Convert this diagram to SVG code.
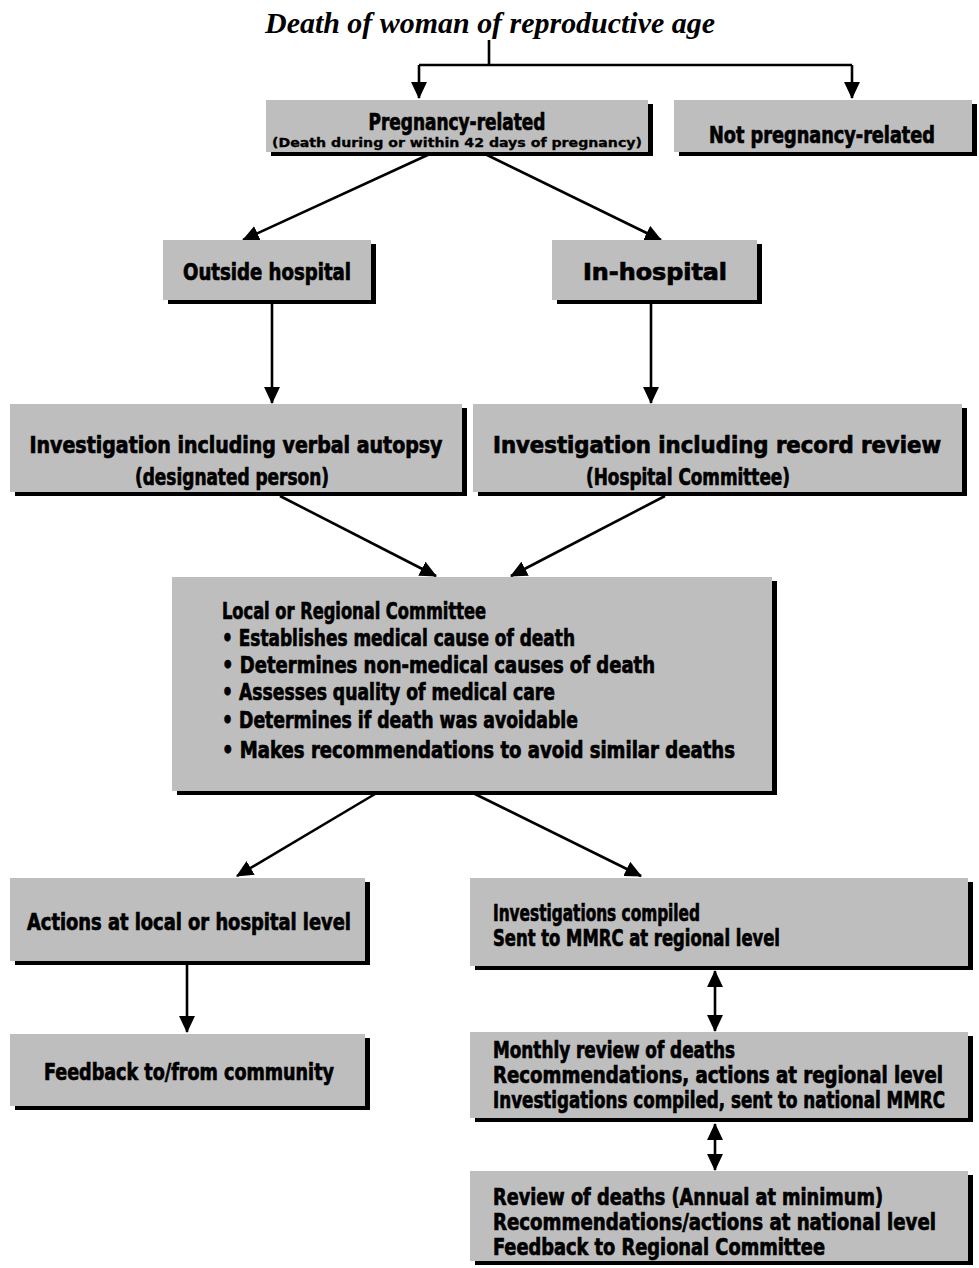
<svg xmlns="http://www.w3.org/2000/svg" width="979" height="1268" viewBox="0 0 979 1268">
<style>
.sh{fill:#000}
.bx{fill:#bebebe}
.t{font-family:"Liberation Sans Narrow","DejaVu Sans Condensed","Liberation Sans",sans-serif;font-weight:bold;font-size:23px;fill:#000;stroke:#000;stroke-width:0.7}
.c{text-anchor:middle}
.s{font-size:12.5px;stroke-width:0.3}
.title{font-family:"Liberation Serif",serif;font-weight:bold;font-style:italic;font-size:30px;fill:#000;text-anchor:middle}
.ln{stroke:#000;stroke-width:2.6;fill:none}
</style>
<defs>
<marker id="ah" markerUnits="userSpaceOnUse" markerWidth="18" markerHeight="16" refX="15" refY="7.5" orient="auto-start-reverse" viewBox="0 0 17 15">
<path d="M0,0 L16,7.5 L0,15 Z" fill="#000"/>
</marker>
</defs>
<text class="title" x="490" y="33" textLength="450" lengthAdjust="spacingAndGlyphs">Death of woman of reproductive age</text>
<g id="connectors">
<path class="ln" d="M489,40 V65 M419,65 H852"/>
<line class="ln" x1="419" y1="65" x2="419" y2="98" marker-end="url(#ah)"/>
<line class="ln" x1="852" y1="65" x2="852" y2="98" marker-end="url(#ah)"/>
<line class="ln" x1="432" y1="153" x2="243" y2="240" marker-end="url(#ah)"/>
<line class="ln" x1="483" y1="153" x2="661" y2="240" marker-end="url(#ah)"/>
<line class="ln" x1="272" y1="303" x2="272" y2="403" marker-end="url(#ah)"/>
<line class="ln" x1="651" y1="303" x2="651" y2="403" marker-end="url(#ah)"/>
<line class="ln" x1="280" y1="496" x2="436" y2="576" marker-end="url(#ah)"/>
<line class="ln" x1="665" y1="496" x2="511" y2="576" marker-end="url(#ah)"/>
<line class="ln" x1="375" y1="794" x2="237" y2="876" marker-end="url(#ah)"/>
<line class="ln" x1="475" y1="794" x2="641" y2="876" marker-end="url(#ah)"/>
<line class="ln" x1="187" y1="963" x2="187" y2="1032" marker-end="url(#ah)"/>
<line class="ln" x1="715" y1="971" x2="715" y2="1031" marker-start="url(#ah)" marker-end="url(#ah)"/>
<line class="ln" x1="715" y1="1124" x2="715" y2="1170" marker-start="url(#ah)" marker-end="url(#ah)"/>
</g>
<g id="pregnancy-related">
<rect class="sh" x="271" y="104" width="382" height="52"/>
<rect class="bx" x="266" y="100" width="382" height="52"/>
<text class="t c" x="457" y="130" textLength="177" lengthAdjust="spacingAndGlyphs">Pregnancy-related</text>
<text class="t c s" x="457" y="147" textLength="370" lengthAdjust="spacingAndGlyphs">(Death during or within 42 days of pregnancy)</text>
</g>
<g id="not-pregnancy-related">
<rect class="sh" x="679" y="104" width="298" height="52"/>
<rect class="bx" x="674" y="100" width="298" height="52"/>
<text class="t c" x="822" y="143" textLength="226" lengthAdjust="spacingAndGlyphs">Not pregnancy-related</text>
</g>
<g id="outside-hospital">
<rect class="sh" x="168" y="244" width="208" height="60"/>
<rect class="bx" x="163" y="240" width="208" height="60"/>
<text class="t c" x="267" y="280" textLength="168" lengthAdjust="spacingAndGlyphs">Outside hospital</text>
</g>
<g id="in-hospital">
<rect class="sh" x="557" y="244" width="205" height="60"/>
<rect class="bx" x="552" y="240" width="205" height="60"/>
<text class="t c" x="655" y="280" textLength="144" lengthAdjust="spacingAndGlyphs">In-hospital</text>
</g>
<g id="investigation-verbal">
<rect class="sh" x="15" y="408" width="452" height="88"/>
<rect class="bx" x="10" y="404" width="452" height="88"/>
<text class="t c" x="236" y="453" textLength="413" lengthAdjust="spacingAndGlyphs">Investigation including verbal autopsy</text>
<text class="t c" x="232" y="485" textLength="194" lengthAdjust="spacingAndGlyphs">(designated person)</text>
</g>
<g id="investigation-record">
<rect class="sh" x="478" y="408" width="489" height="88"/>
<rect class="bx" x="473" y="404" width="489" height="88"/>
<text class="t c" x="717" y="453" textLength="448" lengthAdjust="spacingAndGlyphs">Investigation including record review</text>
<text class="t c" x="688" y="485" textLength="204" lengthAdjust="spacingAndGlyphs">(Hospital Committee)</text>
</g>
<g id="committee">
<rect class="sh" x="177" y="581" width="600" height="214"/>
<rect class="bx" x="172" y="577" width="600" height="214"/>
<text class="t" x="222" y="619" textLength="264" lengthAdjust="spacingAndGlyphs">Local or Regional Committee</text>
<text class="t" x="222" y="646" textLength="353" lengthAdjust="spacingAndGlyphs">• Establishes medical cause of death</text>
<text class="t" x="222" y="673" textLength="433" lengthAdjust="spacingAndGlyphs">• Determines non-medical causes of death</text>
<text class="t" x="222" y="700" textLength="333" lengthAdjust="spacingAndGlyphs">• Assesses quality of medical care</text>
<text class="t" x="222" y="728" textLength="356" lengthAdjust="spacingAndGlyphs">• Determines if death was avoidable</text>
<text class="t" x="222" y="758" textLength="513" lengthAdjust="spacingAndGlyphs">• Makes recommendations to avoid similar deaths</text>
</g>
<g id="actions-local">
<rect class="sh" x="15" y="882" width="355" height="83"/>
<rect class="bx" x="10" y="878" width="355" height="83"/>
<text class="t c" x="189" y="930" textLength="324" lengthAdjust="spacingAndGlyphs">Actions at local or hospital level</text>
</g>
<g id="feedback-community">
<rect class="sh" x="15" y="1038" width="355" height="72"/>
<rect class="bx" x="10" y="1034" width="355" height="72"/>
<text class="t c" x="189" y="1080" textLength="290" lengthAdjust="spacingAndGlyphs">Feedback to/from community</text>
</g>
<g id="investigations-compiled">
<rect class="sh" x="475" y="882" width="498" height="88"/>
<rect class="bx" x="470" y="878" width="498" height="88"/>
<text class="t" x="493" y="921" textLength="207" lengthAdjust="spacingAndGlyphs">Investigations compiled</text>
<text class="t" x="493" y="946" textLength="287" lengthAdjust="spacingAndGlyphs">Sent to MMRC at regional level</text>
</g>
<g id="monthly-review">
<rect class="sh" x="475" y="1036" width="498" height="86"/>
<rect class="bx" x="470" y="1032" width="498" height="86"/>
<text class="t" x="493" y="1058" textLength="242" lengthAdjust="spacingAndGlyphs">Monthly review of deaths</text>
<text class="t" x="493" y="1083" textLength="450" lengthAdjust="spacingAndGlyphs">Recommendations, actions at regional level</text>
<text class="t" x="493" y="1108" textLength="452" lengthAdjust="spacingAndGlyphs">Investigations compiled, sent to national MMRC</text>
</g>
<g id="national-review">
<rect class="sh" x="475" y="1175" width="498" height="90"/>
<rect class="bx" x="470" y="1171" width="498" height="90"/>
<text class="t" x="493" y="1205" textLength="390" lengthAdjust="spacingAndGlyphs">Review of deaths (Annual at minimum)</text>
<text class="t" x="493" y="1230" textLength="443" lengthAdjust="spacingAndGlyphs">Recommendations/actions at national level</text>
<text class="t" x="493" y="1255" textLength="332" lengthAdjust="spacingAndGlyphs">Feedback to Regional Committee</text>
</g>
</svg>
